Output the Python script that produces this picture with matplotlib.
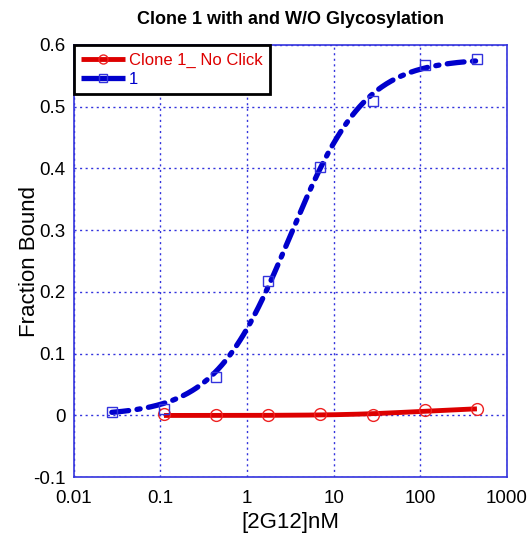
import numpy as np
import matplotlib
matplotlib.use("Agg")
import matplotlib.pyplot as plt

# ---- data ----
conc_blue = [0.0275, 0.11, 0.44, 1.76, 7.03, 28.1, 112.5, 450.0]
bound_blue = [0.006, 0.010, 0.063, 0.217, 0.402, 0.510, 0.567, 0.577]
conc_red = [0.11, 0.44, 1.76, 7.03, 28.1, 112.5, 450.0]
bound_red = [0.002, 0.000, 0.001, 0.002, 0.000, 0.009, 0.010]

label_red = "Clone 1_ No Click"
label_blue = "1"
title = "Clone 1 with and W/O Glycosylation"
xlabel = "[2G12]nM"
ylabel = "Fraction Bound"
xticks = [0.01, 0.1, 1, 10, 100, 1000]
xtick_labels = ["0.01", "0.1", "1", "10", "100", "1000"]
yticks = [-0.1, 0, 0.1, 0.2, 0.3, 0.4, 0.5, 0.6]
ytick_labels = ["-0.1", "0", "0.1", "0.2", "0.3", "0.4", "0.5", "0.6"]


def hill_fit(x, y):
    """Least-squares single-site binding fit y = Bmax*x/(Kd+x)."""
    x = np.asarray(x, float)
    y = np.asarray(y, float)
    best = None
    for kd in np.logspace(-2, 4, 3000):
        f = x / (kd + x)
        bmax = (f @ y) / (f @ f)
        sse = np.sum((bmax * f - y) ** 2)
        if best is None or sse < best[0]:
            best = (sse, kd, bmax)
    return best[1], best[2]


plt.rcParams['font.family'] = ['Liberation Sans', 'DejaVu Sans']

fig = plt.figure(figsize=(5.27, 5.35), dpi=100)
ax = fig.add_axes([0.140, 0.108, 0.822, 0.808])

blue = '#0000cc'
red = '#dd0000'
dash = (3.2, 1.6, 0.6, 1.6)

kd_b, bm_b = hill_fit(conc_blue, bound_blue)
xb = np.logspace(np.log10(min(conc_blue)), np.log10(max(conc_blue)), 300)
yb = bm_b * xb / (kd_b + xb)
kd_r, bm_r = hill_fit(conc_red, bound_red)
xr = np.logspace(np.log10(min(conc_red)), np.log10(max(conc_red)), 300)
yr = bm_r * xr / (kd_r + xr)

ax.plot(xr, yr, color=red, lw=3.5, solid_capstyle='butt', zorder=3)
ax.plot(conc_red, bound_red, 'o', ms=8.5, mfc='none', mec='#ee2222', mew=1.0, zorder=4)

ax.plot(xb, yb, color=blue, lw=3.8, dashes=dash, dash_capstyle='round', zorder=3)
ax.plot(conc_blue, bound_blue, 's', ms=7.5, mfc='none', mec='#3333dd', mew=1.0, zorder=4)

# legend proxies
h_red, = ax.plot([], [], color=red, lw=3.5, marker='o', ms=6.5, mfc='none',
                 mec='#ee2222', mew=1.0, solid_capstyle='butt')
h_blue, = ax.plot([], [], color=blue, lw=3.8, marker='s', ms=6, mfc='none',
                  mec='#3333dd', mew=1.0, solid_capstyle='butt')

ax.set_xscale('log')
ax.set_xlim(0.01, 1000)
ax.set_ylim(-0.1, 0.6)
ax.set_xticks(xticks)
ax.set_xticklabels(xtick_labels)
ax.set_yticks(yticks)
ax.set_yticklabels(ytick_labels)
ax.minorticks_off()
ax.tick_params(axis='both', labelsize=13.5, length=0, colors='black')
ax.tick_params(axis='x', pad=9)
ax.tick_params(axis='y', pad=6)

ax.grid(True, color='#3333dd', linestyle=(0, (1.5, 2.5)), lw=1.0)
for s in ax.spines.values():
    s.set_color('#3333dd')
    s.set_linewidth(1.2)

ax.set_title(title, fontsize=13, fontweight='bold', pad=15)
ax.set_xlabel(xlabel, fontsize=16, labelpad=4)
ax.set_ylabel(ylabel, fontsize=16, labelpad=-5)

leg = ax.legend([h_red, h_blue], [label_red, label_blue], loc='upper left',
                bbox_to_anchor=(0, 1), borderaxespad=0, fontsize=12,
                frameon=True, fancybox=False, handlelength=2.6,
                handletextpad=0.25, labelspacing=0.25, borderpad=0.45)
fr = leg.get_frame()
fr.set_edgecolor('black')
fr.set_linewidth(2.0)
fr.set_alpha(1)
leg.get_texts()[0].set_color(red)
leg.get_texts()[1].set_color(blue)

fig.savefig('out.png', dpi=100)
